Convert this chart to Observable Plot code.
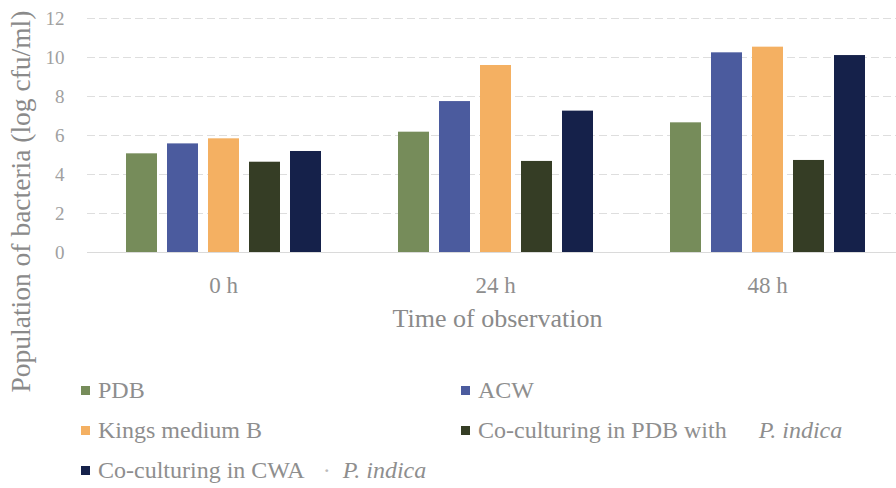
<!DOCTYPE html>
<html>
<head>
<meta charset="utf-8">
<script src="https://cdn.jsdelivr.net/npm/d3@7"></script>
<script src="https://cdn.jsdelivr.net/npm/@observablehq/plot@0.6"></script>
<style>
  html, body { margin: 0; padding: 0; background: #fff; }
  #wrap { position: relative; width: 896px; height: 488px; overflow: hidden; }
  #legend { position: absolute; left: 81px; top: 370px; display: grid;
    grid-template-columns: 380px auto; grid-auto-rows: 40px;
    font-family: "Liberation Serif", serif; font-size: 24px; color: #8e8e8e; }
  .item { display: flex; align-items: center; white-space: nowrap; }
  .sw { width: 9px; height: 9px; margin-right: 8px; flex: none; }
  .it { font-style: italic; }
</style>
</head>
<body>
<div id="wrap">
  <div id="chart"></div>
  <div id="legend"></div>
</div>
<script>
const times = ["0 h", "24 h", "48 h"];
const seriesNames = ["PDB", "ACW", "Kings medium B", "Co-culturing in PDB with P. indica", "Co-culturing in CWA with P. indica"];
const seriesColors = ["#768c5a", "#4b5b9e", "#f4b062", "#353d25", "#15214a"];
const pdb = [5.06, 6.17, 6.65];
const acw = [5.57, 7.74, 10.24];
const kings = [5.83, 9.59, 10.53];
const coPdb = [4.63, 4.67, 4.72];
const coCwa = [5.18, 7.25, 10.1];
const yTicks = [0, 2, 4, 6, 8, 10, 12];
const xTitle = "Time of observation";
const yTitle = "Population of bacteria (log cfu/ml)";

const seriesValues = [pdb, acw, kings, coPdb, coCwa];
const data = [];
times.forEach((t, i) => seriesNames.forEach((s, j) => data.push({time: t, series: s, value: seriesValues[j][i]})));

const chart = Plot.plot({
  width: 896, height: 400,
  marginTop: 18, marginBottom: 148, marginLeft: 86, marginRight: 0,
  style: {fontFamily: "Liberation Serif, serif", fontSize: "19px", color: "#9a9a9a", background: "white"},
  fx: {domain: times, range: [86, 904], padding: 0, label: null},
  x: {domain: seriesNames, paddingInner: 0.25, paddingOuter: 0.9, axis: null},
  y: {domain: [0, 12], label: null},
  color: {domain: seriesNames, range: seriesColors},
  marks: [
    Plot.gridY(yTicks, {stroke: "#dedede", strokeOpacity: 1, strokeDasharray: "8,4"}),
    Plot.ruleY([0], {stroke: "#dadada"}),
    Plot.barY(data, {fx: "time", x: "series", y: "value", fill: "series"}),
    Plot.axisY({ticks: yTicks, tickSize: 0, tickPadding: 23, fontSize: 19, fill: "#a0a0a0", label: null}),
    Plot.axisFx({anchor: "bottom", tickSize: 0, tickPadding: 24, fontSize: 23, fill: "#8e8e8e", label: null}),
    Plot.text([xTitle], {text: d => d, frameAnchor: "bottom", textAnchor: "middle", dx: 2, dy: 66, facet: "super", fontSize: 26, fill: "#8a8a8a", lineAnchor: "middle"}),
    Plot.text([yTitle], {text: d => d, frameAnchor: "left", textAnchor: "middle", dx: -66, dy: 66, rotate: -90, facet: "super", fontSize: 27.5, fill: "#8a8a8a", lineAnchor: "middle"})
  ]
});
document.getElementById("chart").appendChild(chart);

const legendLabels = [
  ["PDB"], ["ACW"], ["Kings medium B"],
  ["Co-culturing in PDB with", "P. indica", 32],
  ["Co-culturing in CWA", "P. indica", 12]
];
const legend = document.getElementById("legend");
legendLabels.forEach((lab, i) => {
  const item = document.createElement("div");
  item.className = "item";
  const sw = document.createElement("span");
  sw.className = "sw";
  sw.style.background = seriesColors[i];
  item.appendChild(sw);
  const t = document.createElement("span");
  t.textContent = lab[0];
  item.appendChild(t);
  if (lab[1]) {
    if (i === 4) {
      const dot = document.createElement("span");
      dot.textContent = "·";
      dot.style.marginLeft = "18px";
      dot.style.color = "#bbb";
      item.appendChild(dot);
    }
    const it = document.createElement("span");
    it.className = "it";
    it.textContent = lab[1];
    it.style.marginLeft = lab[2] + "px";
    item.appendChild(it);
  }
  legend.appendChild(item);
});
</script>
</body>
</html>
